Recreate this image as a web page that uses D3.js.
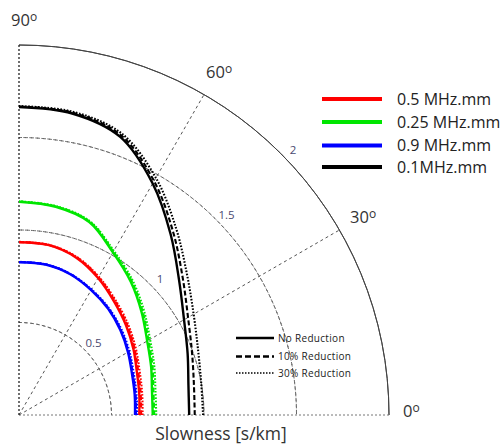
<!DOCTYPE html>
<html>
<head>
<meta charset="utf-8">
<script src="https://cdn.jsdelivr.net/npm/d3@7"></script>
<style>
  body { margin: 0; background: #fff; }
  svg { display: block; font-family: 'Open Sans', sans-serif; }
</style>
</head>
<body>
<svg id="chart" width="504" height="445"></svg>
<script>
// polar angles (degrees) the curves were read at
const angles = [0, 10, 20, 30, 40, 50, 60, 70, 80, 90];

const freqLabels = ['0.5 MHz.mm', '0.25 MHz.mm', '0.9 MHz.mm', '0.1MHz.mm'];
const freqColors = ['#ff0000', '#00e600', '#0000ff', '#000000'];
const reductionLabels = ['No Reduction', '10% Reduction', '30% Reduction'];

// slowness [s/km] per angle, one array per frequency and reduction
const red0 = [0.650, 0.660, 0.678, 0.714, 0.755, 0.800, 0.855, 0.905, 0.932, 0.934];
const red10 = [0.660, 0.668, 0.686, 0.721, 0.762, 0.806, 0.860, 0.908, 0.933, 0.935];
const red30 = [0.668, 0.676, 0.694, 0.728, 0.768, 0.811, 0.863, 0.910, 0.934, 0.936];

const green0 = [0.723, 0.730, 0.760, 0.800, 0.865, 0.940, 1.015, 1.110, 1.143, 1.153];
const green10 = [0.731, 0.738, 0.768, 0.808, 0.872, 0.946, 1.020, 1.113, 1.145, 1.154];
const green30 = [0.742, 0.749, 0.778, 0.818, 0.881, 0.953, 1.025, 1.116, 1.147, 1.155];

const blue0 = [0.627, 0.635, 0.650, 0.680, 0.715, 0.750, 0.780, 0.810, 0.826, 0.826];
const blue10 = [0.632, 0.640, 0.655, 0.684, 0.718, 0.752, 0.782, 0.811, 0.827, 0.827];
const blue30 = [0.638, 0.645, 0.660, 0.689, 0.722, 0.755, 0.784, 0.812, 0.827, 0.828];

const black0 = [0.920, 0.930, 0.970, 1.030, 1.130, 1.275, 1.445, 1.600, 1.655, 1.665];
const black10 = [0.950, 0.960, 0.995, 1.055, 1.155, 1.295, 1.460, 1.610, 1.660, 1.668];
const black30 = [0.995, 1.000, 1.030, 1.090, 1.185, 1.320, 1.480, 1.620, 1.665, 1.670];

const radialTicks = [0.5, 1, 1.5, 2];
const spokeAngles = [30, 60];
const angleTicks = [0, 30, 60, 90];

const series = [
  { color: 0, values: [red0, red10, red30] },
  { color: 1, values: [green0, green10, green30] },
  { color: 2, values: [blue0, blue10, blue30] },
  { color: 3, values: [black0, black10, black30] },
];

const origin = { x: 19, y: 415 };
const rMax = 370;

const r = d3.scaleLinear().domain([0, 2]).range([0, rMax]);
const toRad = d => (90 - d) * Math.PI / 180; // d3 radial angle: 0 = up, clockwise

const dashes = [null, '5,2.5', '1.6,1.6'];

const svg = d3.select('#chart');
const g = svg.append('g').attr('transform', `translate(${origin.x}, ${origin.y})`);

// grid circles
const arc = d3.arc().startAngle(0).endAngle(Math.PI / 2);
g.selectAll('.grid-circle')
  .data(radialTicks)
  .enter()
  .append('path')
  .attr('class', 'grid-circle')
  .attr('d', d => arc.innerRadius(r(d)).outerRadius(r(d))())
  .attr('fill', 'none')
  .attr('stroke', d => (d === 2 ? '#444' : '#666'))
  .attr('stroke-width', 1)
  .attr('stroke-dasharray', d => (d === 2 ? null : '3,3'));

// spokes
g.selectAll('.spoke')
  .data(spokeAngles)
  .enter()
  .append('line')
  .attr('x1', 0)
  .attr('y1', 0)
  .attr('x2', d => r(2) * Math.cos(d * Math.PI / 180))
  .attr('y2', d => -r(2) * Math.sin(d * Math.PI / 180))
  .attr('stroke', '#555')
  .attr('stroke-dasharray', '3,3');

// axes
g.append('line')
  .attr('x1', 0).attr('y1', 0)
  .attr('x2', r(2)).attr('y2', 0)
  .attr('stroke', '#777')
  .attr('stroke-dasharray', '2,2');
g.append('line')
  .attr('x1', 0).attr('y1', 0)
  .attr('x2', 0).attr('y2', -r(2))
  .attr('stroke', '#222')
  .attr('stroke-width', 1.3)
  .attr('stroke-dasharray', '2,2');

// radial tick labels
g.selectAll('.rlabel')
  .data(radialTicks)
  .enter()
  .append('text')
  .attr('x', d => r(d + 0.06) * Math.cos(44 * Math.PI / 180))
  .attr('y', d => -r(d + 0.06) * Math.sin(44 * Math.PI / 180) + 4)
  .attr('text-anchor', 'middle')
  .attr('font-size', 11.5)
  .attr('fill', '#4a4a70')
  .text(d => d);

// curves
const line = d3
  .lineRadial()
  .angle((d, i) => toRad(angles[i]))
  .radius(d => r(d))
  .curve(d3.curveCatmullRom);

series.forEach(s => {
  s.values.forEach((vals, k) => {
    g.append('path')
      .attr('d', line(vals))
      .attr('fill', 'none')
      .attr('stroke', freqColors[s.color])
      .attr('stroke-width', k === 0 ? 2.4 : 2.1)
      .attr('stroke-dasharray', dashes[k]);
  });
});

// angle labels
const angleLabelPos = [
  { x: 403, y: 417 },
  { x: 350, y: 223 },
  { x: 206, y: 78 },
  { x: 11, y: 26 },
];
angleTicks.forEach((a, i) => {
  const t = svg.append('text')
    .attr('x', angleLabelPos[i].x)
    .attr('y', angleLabelPos[i].y)
    .attr('font-size', 16.5)
    .attr('fill', '#333');
  t.append('tspan').text(a);
  t.append('tspan').attr('font-size', 12).attr('dy', -5).text('o');
});

// frequency legend
const legend = svg.append('g').attr('transform', 'translate(322, 99)');
freqLabels.forEach((lab, i) => {
  const y = [0, 23, 46.5, 68][i];
  legend.append('line')
    .attr('x1', 0).attr('x2', 60)
    .attr('y1', y).attr('y2', y)
    .attr('stroke', freqColors[i])
    .attr('stroke-width', 4);
  legend.append('text')
    .attr('x', 75)
    .attr('y', y + 5.5)
    .attr('font-size', 16)
    .attr('font-weight', 500)
    .attr('fill', '#222')
    .text(lab);
});

// reduction legend
const legend2 = svg.append('g').attr('transform', 'translate(236, 338)');
reductionLabels.forEach((lab, i) => {
  const y = [0, 18.5, 35][i];
  legend2.append('line')
    .attr('x1', 0).attr('x2', 38)
    .attr('y1', y).attr('y2', y)
    .attr('stroke', '#000')
    .attr('stroke-width', i === 2 ? 1.5 : 2.5)
    .attr('stroke-dasharray', [null, '6,3', '1.5,1.5'][i]);
  legend2.append('text')
    .attr('x', 42)
    .attr('y', y + 3.5)
    .attr('font-size', 10)
    .attr('letter-spacing', 0.3)
    .attr('fill', '#222')
    .text(lab);
});

// axis title
svg.append('text')
  .attr('x', 221)
  .attr('y', 440)
  .attr('text-anchor', 'middle')
  .attr('font-size', 17.5)
  .attr('fill', '#333')
  .text('Slowness [s/km]');
</script>
</body>
</html>
